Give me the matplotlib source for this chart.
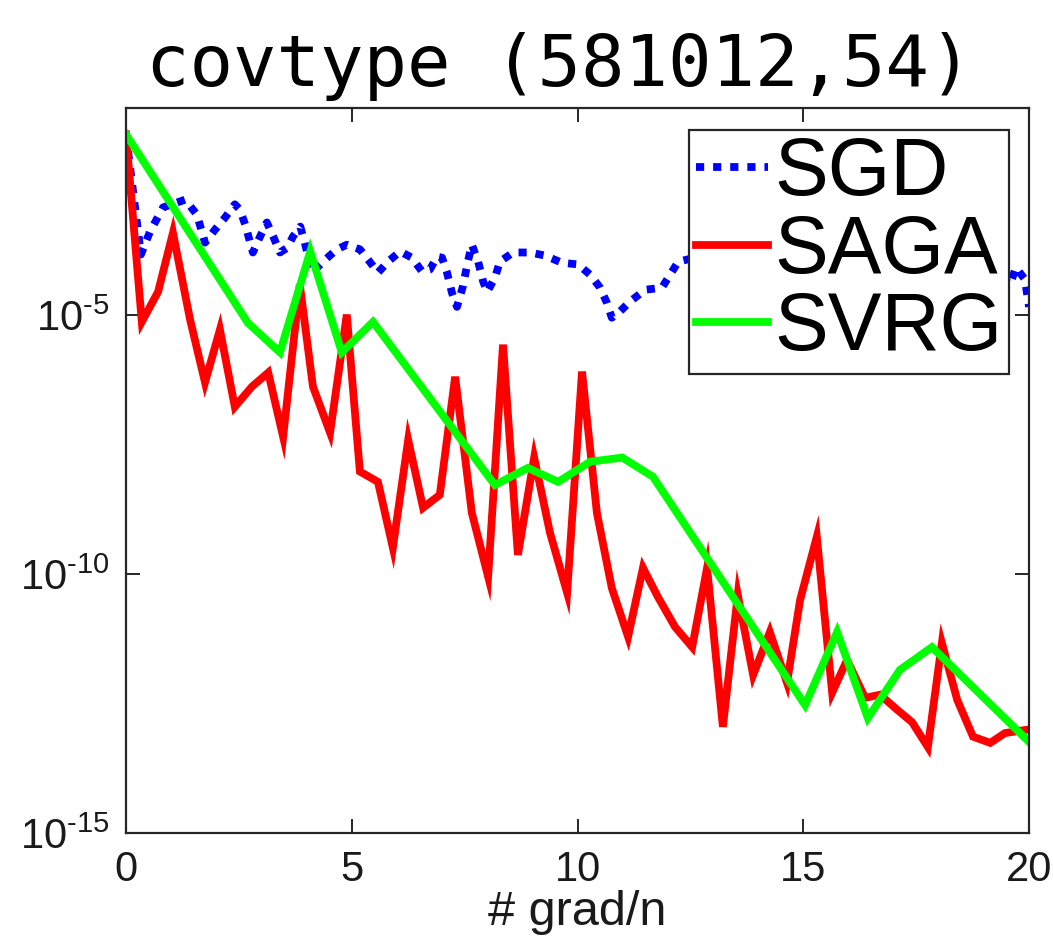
import matplotlib
matplotlib.use("Agg")
import matplotlib.pyplot as plt
import numpy as np

# ---- data: objective suboptimality vs. passes over the data ----
sgd_x = [0.0, 0.33, 0.53, 0.82, 1.31, 1.57, 1.75, 1.97, 2.19, 2.41, 2.52, 2.64,
         2.81, 2.97, 3.12, 3.26, 3.41, 3.57, 3.70, 3.86, 3.96, 4.12, 4.41, 4.67,
         4.89, 5.18, 5.40, 5.58, 5.80, 6.07, 6.33, 6.56, 6.73, 6.89, 7.00, 7.11,
         7.22, 7.33, 7.46, 7.57, 7.66, 7.80, 7.91, 8.00, 8.17, 8.28, 8.57, 8.95,
         9.28, 9.66, 10.01, 10.28, 10.50, 10.65, 10.76, 10.94, 11.16, 11.50,
         11.87, 12.05, 12.23, 13.0, 14.0, 15.0, 16.0, 17.0, 18.0, 19.0, 19.58,
         19.71, 19.91, 20.0]
sgd_log = [-1.51, -3.83, -3.39, -2.92, -2.77, -3.06, -3.60, -3.35, -3.12, -2.86,
           -2.96, -3.25, -3.79, -3.48, -3.21, -3.48, -3.79, -3.70, -3.48, -3.29,
           -3.60, -4.18, -3.93, -3.73, -3.64, -3.73, -3.97, -4.18, -3.97, -3.77,
           -3.89, -4.16, -4.12, -3.87, -3.89, -4.18, -4.57, -4.84, -4.45, -3.97,
           -3.64, -3.97, -4.35, -4.55, -4.28, -3.97, -3.79, -3.79, -3.85, -3.99,
           -4.02, -4.22, -4.47, -4.76, -5.05, -4.93, -4.74, -4.51, -4.47, -4.22,
           -3.97, -3.80, -4.10, -3.70, -4.00, -3.80, -4.10, -3.90, -4.41, -4.08,
           -4.31, -4.84]

saga_x = [0.0, 0.35, 0.71, 1.04, 1.42, 1.75, 2.08, 2.41, 2.79, 3.15, 3.48, 3.85,
          4.14, 4.52, 4.89, 5.18, 5.58, 5.91, 6.25, 6.58, 6.95, 7.29, 7.66, 8.02,
          8.35, 8.68, 9.04, 9.39, 9.77, 10.10, 10.43, 10.76, 11.12, 11.45, 11.78,
          12.16, 12.54, 12.87, 13.22, 13.55, 13.89, 14.26, 14.64, 14.93, 15.30,
          15.64, 15.97, 16.37, 16.70, 17.08, 17.41, 17.76, 18.07, 18.41, 18.76,
          19.14, 19.47, 20.0]
saga_log = [-1.51, -5.13, -4.55, -3.41, -5.09, -6.30, -5.28, -6.77, -6.38, -6.11,
            -7.35, -4.41, -6.38, -7.27, -4.99, -8.02, -8.22, -9.49, -7.41, -8.72,
            -8.47, -6.19, -8.82, -10.05, -5.57, -9.63, -7.75, -9.20, -10.36, -6.09,
            -8.82, -10.27, -11.21, -9.88, -10.44, -11.02, -11.41, -9.88, -12.95,
            -10.40, -11.95, -11.12, -12.10, -10.50, -9.28, -12.29, -11.66, -12.39,
            -12.33, -12.62, -12.86, -13.34, -11.33, -12.43, -13.14, -13.26, -13.07,
            -13.00]

svrg_x = [0.0, 2.70, 3.41, 4.08, 4.78, 5.47, 8.17, 8.90, 9.57, 10.28, 10.99, 11.67,
          15.04, 15.75, 16.43, 17.14, 17.85, 20.0]
svrg_log = [-1.51, -5.15, -5.72, -3.77, -5.72, -5.13, -8.28, -7.95, -8.22, -7.83,
            -7.75, -8.12, -12.53, -11.12, -12.78, -11.85, -11.41, -13.24]

labels = ["SGD", "SAGA", "SVRG"]
title = "covtype (581012,54)"
xticks = [0, 5, 10, 15, 20]
yticks = [1e-15, 1e-10, 1e-5]
ytick_labels = ["$10^{\u201015}$", "$10^{\u201010}$", "$10^{\u20105}$"]

# ---- style ----
plt.rcParams["font.family"] = ["Liberation Sans", "DejaVu Sans"]
plt.rcParams["mathtext.fontset"] = "custom"
plt.rcParams["mathtext.rm"] = "Liberation Sans"
plt.rcParams["mathtext.it"] = "Liberation Sans"
plt.rcParams["mathtext.bf"] = "Liberation Sans"

fig = plt.figure(figsize=(10.53, 9.38), dpi=100)
ax = fig.add_axes([126 / 1053, 1 - 833 / 938, 903 / 1053, 725 / 938])

lw = 5.6
ax.plot(sgd_x, np.power(10.0, sgd_log), color="#0000ff", lw=lw,
        linestyle=(0, (1.05, 1.15)), dash_capstyle="butt", label=labels[0])
ax.plot(saga_x, np.power(10.0, saga_log), color="#ff0000", lw=lw,
        solid_joinstyle="miter", label=labels[1])
ax.plot(svrg_x, np.power(10.0, svrg_log), color="#00ff00", lw=lw,
        solid_joinstyle="miter", label=labels[2])

ax.set_yscale("log")
ax.set_xlim(0, 20)
ax.set_ylim(1e-15, 1e-1)
ax.set_xticks(xticks)
ax.set_xticklabels([str(t) for t in xticks])
ax.set_yticks(yticks)
ax.set_yticklabels(ytick_labels)
ax.yaxis.set_minor_locator(matplotlib.ticker.NullLocator())

edge = "#262626"
for s in ax.spines.values():
    s.set_color(edge)
    s.set_linewidth(1.6)
ax.tick_params(which="both", direction="in", length=10, width=1.4, color=edge,
               top=True, right=True, labelsize=30, labelcolor="#1a1a1a", pad=12)

ax.set_xlabel("# grad/n", fontsize=35, color="#1a1a1a", labelpad=0)
ax.set_title(title, fontsize=52, family="DejaVu Sans Mono", pad=16, x=0.48)

leg = ax.legend(loc="upper right", bbox_to_anchor=(0.978, 0.970),
                borderaxespad=0, fontsize=58, handlelength=0.9,
                handletextpad=0.08, labelspacing=0.02, borderpad=0.08,
                fancybox=False, framealpha=1, edgecolor=edge)
leg.get_frame().set_linewidth(1.6)

fig.savefig("out.png", dpi=100)
